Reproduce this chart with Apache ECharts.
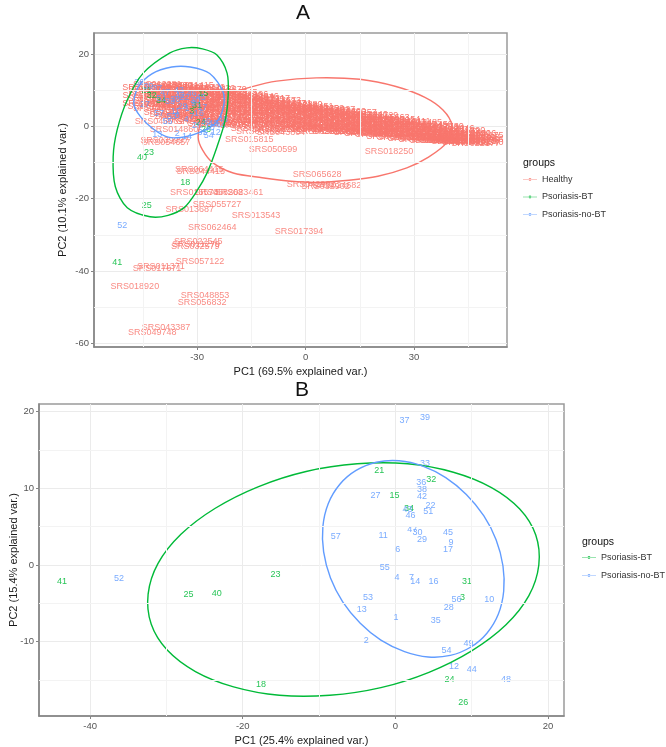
<!DOCTYPE html>
<html>
<head>
<meta charset="utf-8">
<script src="https://cdn.jsdelivr.net/npm/echarts@6/dist/echarts.min.js"></script>
<style>
html,body{margin:0;padding:0;background:#fff}
#chart{width:666px;height:747px}
</style>
</head>
<body>
<div id="chart"></div>
<script>
// ---- panel A : all samples, [PC1, PC2, label] ----
var healthyBand = [
  [-44,10.8,'SRS014999'],[-44,8.6,'SRS011405'],[-44,6.2,'SRS016203'],
  [-41,11.5,'SRS012281'],[-41,9.4,'SRS019397'],[-41,7.1,'SRS022137'],[-41,4.8,'SRS048466'],
  [-38,11.2,'SRS013800'],[-38,8.9,'SRS015264'],[-38,6.6,'SRS017191'],[-38,3.9,'SRS020263'],
  [-35,10.9,'SRS014313'],[-35,9.8,'SRS016585'],[-35,7.7,'SRS019686'],[-35,5.2,'SRS023352'],[-35,2.6,'SRS045713'],
  [-32,11.3,'SRS011415'],[-32,9.1,'SRS013476'],[-32,6.9,'SRS016349'],[-32,4.3,'SRS018739'],[-32,1.8,'SRS024331'],
  [-29,10.6,'SRS019722'],[-29,8.4,'SRS012464'],[-29,6.1,'SRS015554'],[-29,3.5,'SRS020594'],[-29,1.2,'SRS043663'],
  [-26,10.4,'SRS011132'],[-26,8.8,'SRS014235'],[-26,6.5,'SRS017452'],[-26,4.1,'SRS021663'],[-26,0.9,'SRS047100'],
  [-23,10.1,'SRS013879'],[-23,7.9,'SRS016090'],[-23,5.7,'SRS019030'],[-23,3.2,'SRS022407'],[-23,0.4,'SRS049318'],
  [-20,9.4,'SRS012945'],[-20,8.0,'SRS015072'],[-20,5.8,'SRS018154'],[-20,3.7,'SRS021226'],[-20,1.1,'SRS050244'],
  [-17,8.8,'SRS014196'],[-17,7.0,'SRS016935'],[-17,5.0,'SRS019120'],[-17,2.6,'SRS023630'],[-17,0.2,'SRS052104'],
  [-14,8.2,'SRS011846'],[-14,6.5,'SRS013942'],[-14,4.4,'SRS017814'],[-14,2.0,'SRS024479'],[-14,-0.5,'SRS054956'],
  [-11,7.7,'SRS015217'],[-11,6.1,'SRS018661'],[-11,4.5,'SRS020869'],[-11,2.7,'SRS042643'],[-11,0.6,'SRS055401'],
  [-8,7.0,'SRS013573'],[-8,5.6,'SRS016324'],[-8,3.8,'SRS019787'],[-8,1.7,'SRS043485'],[-8,-0.8,'SRS056259'],
  [-5,6.4,'SRS014631'],[-5,5.0,'SRS017854'],[-5,3.2,'SRS021578'],[-5,1.2,'SRS044335'],
  [-2,5.9,'SRS012880'],[-2,4.6,'SRS015956'],[-2,2.8,'SRS019581'],[-2,0.7,'SRS045127'],[-2,-1.0,'SRS058723'],
  [1,5.5,'SRS016451'],[1,4.1,'SRS018472'],[1,2.3,'SRS022213'],[1,0.3,'SRS046526'],
  [4,5.0,'SRS013229'],[4,3.7,'SRS017206'],[4,1.9,'SRS020302'],[4,0.0,'SRS047578'],[4,-1.3,'SRS062555'],
  [7,4.6,'SRS014027'],[7,3.2,'SRS019063'],[7,1.5,'SRS024538'],[7,-0.4,'SRS048281'],
  [10,4.2,'SRS015390'],[10,2.8,'SRS018990'],[10,1.1,'SRS023488'],[10,-0.7,'SRS049902'],
  [13,3.8,'SRS012357'],[13,2.4,'SRS016678'],[13,0.7,'SRS021041'],[13,-1.0,'SRS051436'],
  [16,3.4,'SRS014846'],[16,2.0,'SRS019263'],[16,0.3,'SRS043033'],[16,-1.3,'SRS053238'],
  [19,3.0,'SRS011729'],[19,1.5,'SRS017561'],[19,-0.1,'SRS044742'],[19,-1.7,'SRS055660'],
  [22,2.5,'SRS015663'],[22,1.0,'SRS020336'],[22,-0.5,'SRS046404'],[22,-2.0,'SRS057372'],
  [25,2.0,'SRS013154'],[25,0.6,'SRS018514'],[25,-0.9,'SRS047475'],[25,-2.3,'SRS058946'],
  [28,1.4,'SRS016111'],[28,0.0,'SRS021906'],[28,-1.5,'SRS048630'],
  [31,1.0,'SRS012485'],[31,-0.4,'SRS019119'],[31,-2.0,'SRS049885'],[31,-3.2,'SRS060619'],
  [34,0.5,'SRS014450'],[34,-0.9,'SRS022419'],[34,-2.4,'SRS051047'],
  [37,0.0,'SRS017730'],[37,-1.4,'SRS024267'],[37,-2.8,'SRS052577'],[37,-3.8,'SRS062731'],
  [40,-0.6,'SRS013046'],[40,-1.9,'SRS043018'],[40,-3.1,'SRS054120'],[40,-4.0,'SRS064207'],
  [43,-1.2,'SRS015890'],[43,-2.4,'SRS045300'],[43,-3.5,'SRS056085'],[43,-4.3,'SRS063948'],
  [46,-1.9,'SRS018316'],[46,-3.0,'SRS047201'],[46,-4.1,'SRS057615'],
  [48,-2.6,'SRS020175'],[48,-3.6,'SRS049056'],[48,-4.5,'SRS059340']
];
var healthyBand2 = [
  [-42.5,10.2,'SRS011562'],[-42.5,7.8,'SRS015087'],[-42.5,5.5,'SRS019848'],
  [-39.5,10.6,'SRS012733'],[-39.5,8.2,'SRS016920'],[-39.5,5.9,'SRS021372'],
  [-36.5,10.3,'SRS013317'],[-36.5,8.6,'SRS017045'],[-36.5,6.0,'SRS020491'],[-36.5,3.3,'SRS046152'],
  [-33.5,10.5,'SRS014768'],[-33.5,8.0,'SRS018201'],[-33.5,5.8,'SRS022896'],[-33.5,3.0,'SRS047389'],
  [-30.5,10.0,'SRS011989'],[-30.5,7.6,'SRS015430'],[-30.5,5.0,'SRS019955'],[-30.5,2.4,'SRS048714'],
  [-27.5,9.7,'SRS012602'],[-27.5,7.3,'SRS016803'],[-27.5,5.2,'SRS020718'],[-27.5,2.2,'SRS049127'],
  [-24.5,9.3,'SRS013064'],[-24.5,7.0,'SRS017369'],[-24.5,4.6,'SRS021955'],[-24.5,1.8,'SRS050418'],
  [-21.5,9.0,'SRS014582'],[-21.5,6.8,'SRS018027'],[-21.5,4.8,'SRS022651'],[-21.5,2.3,'SRS051792'],
  [-18.5,8.5,'SRS011310'],[-18.5,6.4,'SRS015748'],[-18.5,4.1,'SRS019403'],[-18.5,1.7,'SRS052933'],
  [-15.5,8.0,'SRS012097'],[-15.5,5.9,'SRS016266'],[-15.5,3.6,'SRS020847'],[-15.5,1.0,'SRS053681'],
  [-12.5,7.4,'SRS013725'],[-12.5,5.4,'SRS017598'],[-12.5,3.5,'SRS021134'],[-12.5,1.6,'SRS054270'],
  [-9.5,6.9,'SRS014402'],[-9.5,5.0,'SRS018835'],[-9.5,2.9,'SRS022760'],[-9.5,0.7,'SRS055893'],
  [-6.5,6.3,'SRS011877'],[-6.5,4.4,'SRS015311'],[-6.5,2.4,'SRS019602'],[-6.5,0.2,'SRS056617'],
  [-3.5,5.8,'SRS012519'],[-3.5,4.0,'SRS016047'],[-3.5,2.0,'SRS020130'],[-3.5,0.0,'SRS057249'],
  [-0.5,5.3,'SRS013918'],[-0.5,3.5,'SRS017733'],[-0.5,1.5,'SRS021390'],[-0.5,-0.4,'SRS058102'],
  [2.5,4.8,'SRS014165'],[2.5,3.0,'SRS018308'],[2.5,1.1,'SRS022024'],[2.5,-0.7,'SRS059486'],
  [5.5,4.3,'SRS011253'],[5.5,2.6,'SRS015682'],[5.5,0.7,'SRS019474'],[5.5,-1.0,'SRS060075'],
  [8.5,3.8,'SRS012806'],[8.5,2.1,'SRS016597'],[8.5,0.3,'SRS020989'],[8.5,-1.3,'SRS061328'],
  [11.5,3.4,'SRS013451'],[11.5,1.7,'SRS017120'],[11.5,0.0,'SRS021817'],[11.5,-1.5,'SRS062004'],
  [14.5,3.0,'SRS014739'],[14.5,1.3,'SRS018696'],[14.5,-0.4,'SRS022538'],[14.5,-1.8,'SRS062917'],
  [17.5,2.5,'SRS011640'],[17.5,0.9,'SRS015218'],[17.5,-0.7,'SRS019735'],[17.5,-2.1,'SRS063566'],
  [20.5,2.0,'SRS012366'],[20.5,0.5,'SRS016889'],[20.5,-1.1,'SRS020406'],[20.5,-2.4,'SRS064120'],
  [23.5,1.5,'SRS013592'],[23.5,0.0,'SRS017987'],[23.5,-1.4,'SRS021677'],[23.5,-2.7,'SRS064843'],
  [26.5,1.0,'SRS014903'],[26.5,-0.4,'SRS018459'],[26.5,-1.9,'SRS022290'],[26.5,-3.0,'SRS065219'],
  [29.5,0.6,'SRS011095'],[29.5,-0.9,'SRS015823'],[29.5,-2.3,'SRS020052'],[29.5,-3.3,'SRS065731'],
  [32.5,0.1,'SRS012248'],[32.5,-1.3,'SRS016411'],[32.5,-2.7,'SRS021508'],[32.5,-3.6,'SRS066052'],
  [35.5,-0.4,'SRS013786'],[35.5,-1.8,'SRS017624'],[35.5,-3.1,'SRS022863'],[35.5,-3.9,'SRS066380'],
  [38.5,-0.9,'SRS014337'],[38.5,-2.2,'SRS018742'],[38.5,-3.4,'SRS020619'],[38.5,-4.0,'SRS066714'],
  [41.5,-1.5,'SRS011473'],[41.5,-2.8,'SRS015165'],[41.5,-3.8,'SRS019248'],[41.5,-4.3,'SRS067035'],
  [44.5,-2.1,'SRS012690'],[44.5,-3.3,'SRS016734'],[44.5,-4.1,'SRS021002'],[44.5,-4.6,'SRS067392'],
  [47,-3.1,'SRS013368'],[47,-4.0,'SRS017856'],[47,-4.7,'SRS022177']
];
var healthyOut = [
  [-40.5,1.2,'SRS048061'],[-36.4,-1.0,'SRS014860'],[-39.0,-4.0,'SRS039997'],[-38.6,-4.6,'SRS054657'],
  [-29.4,-12.0,'SRS064415'],[-29.0,-12.6,'SRS044415'],
  [-30.8,-18.3,'SRS015574'],[-24.0,-18.4,'SRS058268'],[-18.4,-18.2,'SRS023461'],
  [-24.5,-21.7,'SRS055727'],[-32.0,-23.0,'SRS013687'],[-13.7,-24.7,'SRS013543'],
  [-25.8,-28.0,'SRS062464'],[-1.8,-29.1,'SRS017394'],
  [-29.7,-31.9,'SRS022545'],[-30.3,-32.6,'SRS011279'],[-30.5,-33.3,'SRS032579'],
  [-29.2,-37.4,'SRS057122'],[-40.0,-38.8,'SRS011371'],[-41.1,-39.4,'SRS017671'],
  [-47.2,-44.3,'SRS018920'],[-27.8,-46.8,'SRS048853'],[-28.6,-48.7,'SRS056832'],
  [-38.6,-55.6,'SRS043387'],[-42.4,-57.0,'SRS049748'],
  [-9.0,-6.5,'SRS050599'],[-15.6,-3.7,'SRS015815'],[-6.8,-1.8,'SRS043804'],[-12.5,-1.5,'SRS063835'],
  [3.2,-13.4,'SRS065628'],[1.5,-16.1,'SRS042902'],[5.5,-16.6,'SRS032902'],[8.7,-16.4,'SRS024682'],
  [23.1,-7.0,'SRS018250']
];
var btA = [
  [-44,9.8,21],[-42.5,8.4,32],[-28.3,9.2,15],[-40,7.0,34],[-30,5.8,31],[-31.5,4.1,3],
  [-29,1.0,24],[-27.5,-0.9,26],[-43.3,-7.3,23],[-45.2,-8.7,40],[-33.3,-15.6,18],
  [-43.9,-21.9,25],[-52.1,-37.7,41]
];
var noBtA = [
  [-46,12.0,36],[-43.5,11.0,39],[-41,10.5,37],[-44.4,5.9,27],[-37.5,6.8,33],[-36,7.5,38],
  [-34.7,8.6,42],[-33.5,8.1,22],[-39.8,7.6,51],[-35,9.8,43],[-31.5,9.0,46],[-32.8,4.8,1],
  [-37,2.6,53],[-40.5,3.6,57],[-36,4.2,11],[-38.8,9.3,47],[-30.5,7.0,30],[-34,5.6,29],
  [-29,8.1,45],[-31,6.2,9],[-28.6,5.2,17],[-35.5,3.1,6],[-38.2,1.2,55],[-33,1.8,4],
  [-31.4,2.7,7],[-32.8,-2.9,14],[-29.5,3.6,16],[-41,-2.4,13],[-27.5,1.3,56],[-30,0.2,28],
  [-26.5,-0.4,10],[-28.5,-1.6,35],[-35.5,-2.0,2],[-26.8,-2.5,54],[-25.5,0.8,49],
  [-24.8,-1.7,12],[-23.5,0.1,44],[-22.8,2.0,48],[-50.7,-27.4,52]
];
// ---- panel B : psoriasis samples only ----
var btB = [
  [-2.1,12.3,21],[4.7,11.1,32],[-0.1,9.1,15],[1.8,7.4,34],[9.4,-2.2,31],[8.8,-4.3,3],
  [7.1,-14.9,24],[8.9,-17.9,26],[-15.7,-1.3,23],[-43.7,-2.1,41],[-27.1,-3.8,25],
  [-23.4,-3.7,40],[-17.6,-15.6,18]
];
var noBtB = [
  [1.2,18.8,37],[3.9,19.3,39],[3.9,13.2,33],[3.4,10.7,36],[3.5,9.9,38],[3.5,8.9,42],
  [-2.6,9.1,27],[4.6,7.8,22],[4.3,7.0,51],[1.6,7.3,43],[2.0,6.5,46],[-7.8,3.7,57],
  [-1.6,3.8,11],[2.2,4.6,47],[2.9,4.3,30],[3.5,3.3,29],[6.9,4.2,45],[7.3,2.9,9],
  [6.9,2.0,17],[0.3,2.0,6],[-1.4,-0.3,55],[0.2,-1.6,4],[2.1,-1.7,7],[2.6,-2.1,14],
  [5.0,-2.2,16],[-3.6,-4.3,53],[-4.4,-5.8,13],[8.0,-4.5,56],[7.0,-5.5,28],[12.3,-4.5,10],
  [0.1,-6.8,1],[5.3,-7.3,35],[-3.8,-9.8,2],[6.7,-11.2,54],[9.6,-10.2,49],[7.7,-13.3,12],
  [10.0,-13.7,44],[14.5,-14.9,48],[-36.2,-1.8,52]
];
// ---- ellipse outlines ----
var ellHealthyA = [[-29.7,-3],[-28.6,2],[-26,6.2],[-22,8.6],[-15,10.9],[-8,12.5],[3,13.4],[15,13],
  [25,11],[33,8],[38,4.5],[40.4,0.4],[39,-4.5],[34,-8.5],[28,-11.5],[20,-13.8],[12,-14.9],
  [3,-15.5],[-4,-15.2],[-12,-14.2],[-20,-12.9],[-25.6,-10.1],[-28.5,-6.5]];
var ellBtA = [[-32.8,21.7],[-28.5,21.4],[-24.5,19.7],[-21.7,14.7],[-21.4,8.7],[-22.2,1.8],
  [-24.5,-5.7],[-27.2,-12.8],[-30,-17.8],[-33.5,-22.4],[-38,-24.6],[-43,-25],[-49.3,-22.5],
  [-52.6,-16.7],[-53.2,-8.4],[-52.1,-1],[-49.3,7.3],[-44.9,14.7],[-37.5,20.3]];
var ellNoBtA = [[-31.9,16.4],[-26.5,14.6],[-22.8,9.5],[-22.8,5],[-24.8,1],[-29.2,-1.7],
  [-34,-3],[-38,-3],[-42,-0.8],[-45.6,2.6],[-47.5,6.2],[-46.3,10.8],[-42.5,14.5],[-37,16.4]];
var ellBtB = [[18.8,0.0],[18.4,3.9],[16.3,7.3],[12.6,10.1],[7.6,12.1],[1.6,13.2],[-5.0,13.2],
  [-11.7,12.2],[-18.0,10.2],[-23.6,7.4],[-28.1,4.0],[-31.1,0.2],[-32.4,-3.8],[-32.0,-7.7],
  [-29.9,-11.1],[-26.2,-13.9],[-21.2,-15.9],[-15.2,-17.0],[-8.6,-17.0],[-1.9,-16.0],
  [4.4,-14.0],[10.0,-11.2],[14.5,-7.8],[17.5,-4.0]];
var ellNoBtB = [[14.1,-0.1],[13.2,3.3],[11.6,6.4],[9.3,9.2],[6.6,11.4],[3.6,12.9],[0.5,13.6],
  [-2.5,13.4],[-5.2,12.3],[-7.3,10.5],[-8.8,8.0],[-9.5,5.0],[-9.4,1.7],[-8.5,-1.7],
  [-6.9,-4.8],[-4.6,-7.6],[-1.9,-9.8],[1.2,-11.3],[4.3,-12.0],[7.2,-11.8],[9.9,-10.7],
  [12.0,-8.9],[13.5,-6.4],[14.2,-3.4]];
// ---- axis ticks ----
var xMajorA = [-30, 0, 30], xMinorA = [-45, -15, 15, 45];
var yMajorA = [-60, -40, -20, 0, 20], yMinorA = [-50, -30, -10, 10];
var xMajorB = [-40, -20, 0, 20], xMinorB = [-30, -10, 10];
var yMajorB = [-10, 0, 10, 20], yMinorB = [-15, -5, 5, 15];

var colHealthy = '#F8766D', colBt = '#00BA38', colNoBt = '#619CFF';
var FONT = 'Liberation Sans, Arial, sans-serif';

function labels(name, pts, color, gi, alpha) {
  return {
    type: 'scatter', name: name, xAxisIndex: gi, yAxisIndex: gi,
    symbolSize: 0, silent: true, z: 3, itemStyle: { color: color },
    data: pts.map(function (p) { return { name: String(p[2]), value: [p[0], p[1]] }; }),
    label: { show: true, position: 'inside', formatter: '{b}', color: color, opacity: alpha || 0.85,
      fontSize: 9, fontFamily: FONT }
  };
}
function ellipse(name, pts, color, gi) {
  return {
    type: 'custom', name: name, xAxisIndex: gi, yAxisIndex: gi, silent: true, z: 4,
    data: pts,
    renderItem: function (params, api) {
      if (params.dataIndex !== 0) return null;
      var p = pts.map(function (q) { return api.coord(q); });
      return { type: 'polygon', shape: { points: p, smooth: 0.3 },
        style: { fill: 'none', stroke: color, lineWidth: 1.4 } };
    }
  };
}
function minorGrid(gi, xs, ys) {
  return {
    type: 'line', xAxisIndex: gi, yAxisIndex: gi, data: [], silent: true, z: 1,
    markLine: { silent: true, symbol: 'none', label: { show: false },
      lineStyle: { color: '#f3f3f3', width: 1, type: 'solid' },
      data: xs.map(function (v) { return { xAxis: v }; }).concat(ys.map(function (v) { return { yAxis: v }; })) }
  };
}
function axis(gi, min, max, step, major, name, gap) {
  return {
    gridIndex: gi, type: 'value', min: min, max: max, minInterval: step, maxInterval: step,
    name: name, nameLocation: 'middle', nameGap: gap, nameMoveOverlap: false,
    nameTextStyle: { fontSize: 11, color: '#1a1a1a', fontFamily: FONT },
    axisLine: { show: true, onZero: false, lineStyle: { color: '#858585', width: 1.5 } },
    axisTick: { show: true, length: 3, customValues: major, lineStyle: { color: '#858585' } },
    axisLabel: { customValues: major, color: '#555', fontSize: 9.5, margin: 5, fontFamily: FONT,
      formatter: function (v) { return major.indexOf(v) >= 0 ? String(v) : ''; } },
    splitLine: { show: true, lineStyle: { color: '#ebebeb', width: 1 } }
  };
}
var legendIcon = 'path://M0,1.6H16V2.4H0Z M6.4,2A1.6,1.6 0 1 0 9.6,2A1.6,1.6 0 1 0 6.4,2Z';
function legend(left, top, names, gap) {
  return { left: left, top: top, orient: 'vertical', icon: legendIcon, itemWidth: 14, itemHeight: 4,
    itemGap: gap, padding: 0, selectedMode: false, data: names,
    textStyle: { fontSize: 9, color: '#333', fontFamily: FONT } };
}
function txt(x, y, s, size, align) {
  return { type: 'text', x: x, y: y, silent: true,
    style: { text: s, fontSize: size, fontFamily: FONT, fill: '#111', align: align || 'center', verticalAlign: 'middle' } };
}

var chart = echarts.init(document.getElementById('chart'));
chart.setOption({
  animation: false,
  backgroundColor: '#fff',
  grid: [
    { left: 94, right: 159, top: 33, bottom: 400, show: true, borderColor: '#9a9a9a', borderWidth: 1.5 },
    { left: 38, right: 102, top: 404, bottom: 30, show: true, borderColor: '#9a9a9a', borderWidth: 1.5 }
  ],
  xAxis: [
    axis(0, -58.5, 55.7, 30, xMajorA, 'PC1 (69.5% explained var.)', 19),
    axis(1, -46.7, 22.1, 20, xMajorB, 'PC1 (25.4% explained var.)', 19)
  ],
  yAxis: [
    axis(0, -61, 25.8, 20, yMajorA, 'PC2 (10.1% explained var.)', 26),
    axis(1, -19.7, 21.0, 10, yMajorB, 'PC2 (15.4% explained var.)', 20)
  ],
  legend: [
    legend(523, 175, ['Healthy', 'Psoriasis-BT', 'Psoriasis-no-BT'], 8.5),
    legend(582, 553, ['Psoriasis-BT', 'Psoriasis-no-BT'], 9)
  ],
  graphic: [
    txt(303, 13, 'A', 21), txt(302, 390, 'B', 21),
    txt(523, 163, 'groups', 10.5, 'left'), txt(582, 542, 'groups', 10.5, 'left')
  ],
  series: [
    minorGrid(0, xMinorA, yMinorA),
    minorGrid(1, xMinorB, yMinorB),
    labels('Healthy', healthyBand.concat(healthyBand2), colHealthy, 0, 1),
    labels('Healthy', healthyOut, colHealthy, 0),
    labels('Psoriasis-BT', btA, colBt, 0),
    labels('Psoriasis-no-BT', noBtA, colNoBt, 0),
    ellipse('Healthy', ellHealthyA, colHealthy, 0),
    ellipse('Psoriasis-BT', ellBtA, colBt, 0),
    ellipse('Psoriasis-no-BT', ellNoBtA, colNoBt, 0),
    labels('Psoriasis-BT', btB, colBt, 1),
    labels('Psoriasis-no-BT', noBtB, colNoBt, 1),
    ellipse('Psoriasis-BT', ellBtB, colBt, 1),
    ellipse('Psoriasis-no-BT', ellNoBtB, colNoBt, 1)
  ]
});
</script>
</body>
</html>
